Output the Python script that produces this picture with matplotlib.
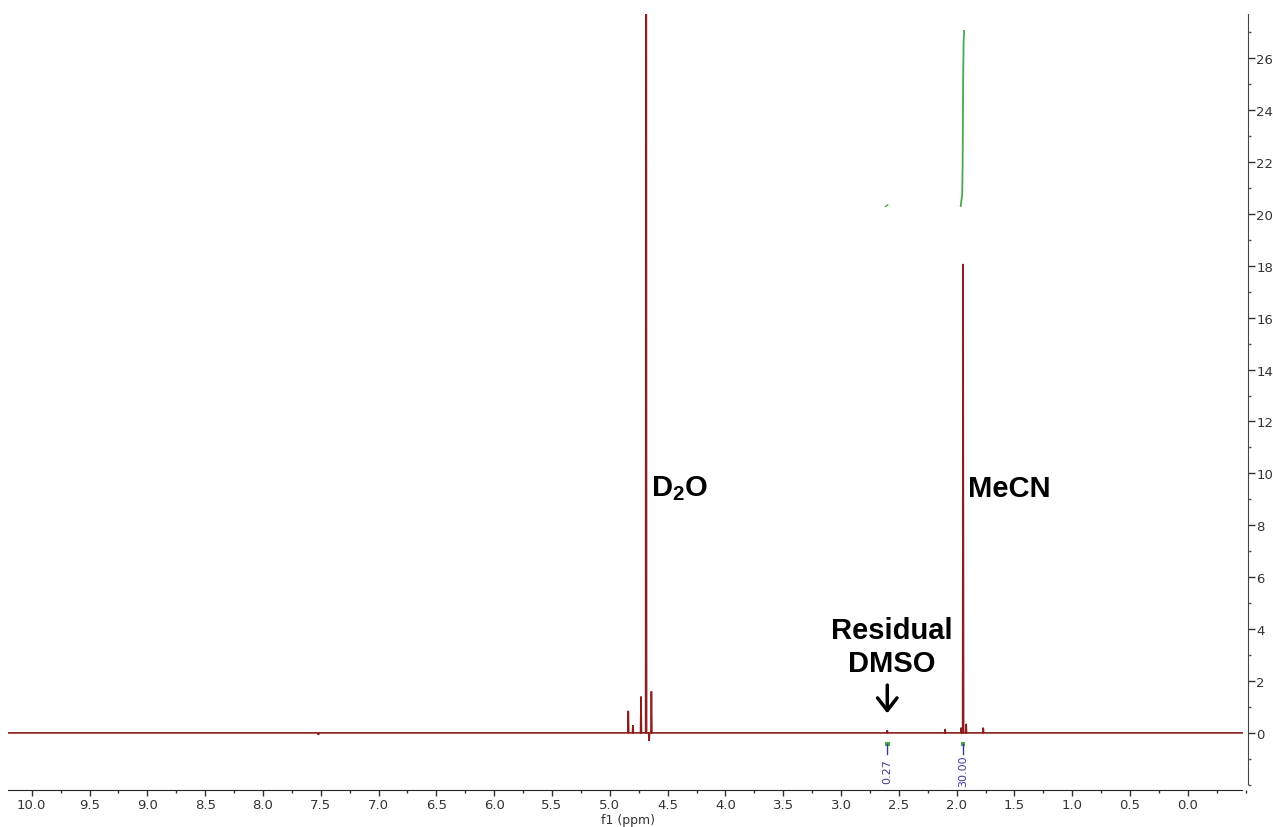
import numpy as np
import matplotlib.pyplot as plt
from matplotlib.ticker import MultipleLocator

plt.rcParams['mathtext.fontset'] = 'custom'
plt.rcParams['mathtext.bf'] = 'Liberation Sans:bold'
plt.rcParams['mathtext.rm'] = 'Liberation Sans'

# Picos del espectro 1H (ppm, intensidad)
picos_ppm = [7.52, 4.84, 4.80, 4.73, 4.686, 4.66, 4.64, 2.60, 2.10, 1.96, 1.944, 1.918, 1.77]
picos_alt = [-0.08, 0.85, 0.30, 1.40, 60.0, -0.30, 1.60, 0.10, 0.15, 0.20, 18.07, 0.35, 0.20]

# Curva de integral sobre MeCN
integ_ppm = [1.965, 1.952, 1.948, 1.944, 1.940, 1.935]
integ_val = [20.30, 20.75, 22.0, 25.0, 26.6, 27.05]
# Integral pequeña (DMSO)
integ2_ppm = [2.615, 2.595]
integ2_val = [20.28, 20.35]

integ_etiquetas = ["0.27", "30.00"]
integ_pos = [2.60, 1.944]

xticks = [10.0, 9.5, 9.0, 8.5, 8.0, 7.5, 7.0, 6.5, 6.0, 5.5, 5.0, 4.5, 4.0,
          3.5, 3.0, 2.5, 2.0, 1.5, 1.0, 0.5, 0.0]
yticks = list(range(0, 27, 2))

# Construir la línea del espectro a partir de los picos
x_pts = [10.205]
y_pts = [0.0]
w = 0.004
for p, h in zip(picos_ppm, picos_alt):
    x_pts += [p + w, p, p - w]
    y_pts += [0.0, h, 0.0]
x_pts.append(-0.47)
y_pts.append(0.0)

fig = plt.figure(figsize=(12.73, 8.28), dpi=100)
ax = fig.add_axes([8 / 1273, 37 / 828, 1240 / 1273, 776 / 828])

rojo = '#8B1E1E'
ax.plot(x_pts, y_pts, color=rojo, lw=1.2, solid_joinstyle='miter')
ax.plot(integ_ppm, integ_val, color='#4CA64C', lw=1.3)
ax.plot(integ2_ppm, integ2_val, color='#4CA64C', lw=1.0)

ax.set_xlim(10.205, -0.52)
ax.set_ylim(-2.20, 27.70)

# Ejes tipo MestReNova
for s in ['top', 'left']:
    ax.spines[s].set_visible(False)
ax.spines['bottom'].set_bounds(10.205, -0.47)
ax.spines['right'].set_bounds(-1.96, 27.70)
ax.spines['bottom'].set_color('#222222')
ax.spines['right'].set_color('#444444')

ax.set_xticks(xticks)
ax.set_xticklabels([f"{t:.1f}" for t in xticks])
ax.xaxis.set_minor_locator(MultipleLocator(0.25))
ax.yaxis.tick_right()
ax.set_yticks(yticks)
ax.set_yticklabels([str(t) for t in yticks])
ax.yaxis.set_minor_locator(MultipleLocator(1))
ax.tick_params(axis='x', which='major', length=4, width=1, labelsize=9.5,
               pad=2, colors='#333333')
ax.tick_params(axis='x', which='minor', length=2.5, width=1, colors='#333333')
ax.tick_params(axis='y', which='major', length=5, width=1, labelsize=9.5,
               pad=1, colors='#333333')
ax.tick_params(axis='y', which='minor', length=2.5, width=1, colors='#555555')
ax.set_xlabel("f1 (ppm)", fontsize=9, labelpad=1, color='#333333')

# Marcas de integración bajo la línea base
for p, lab in zip(integ_pos, integ_etiquetas):
    ax.plot([p + 0.02, p - 0.02], [-0.42, -0.42], color='#4CA64C', lw=3,
            solid_capstyle='butt')
    ax.plot([p, p], [-0.42, -0.80], color='#3A3A9A', lw=1)
    ax.text(p, -1.45, lab, rotation=90, ha='center', va='center',
            fontsize=8, color='#3A3A9A')

# Etiquetas
fuente = dict(fontsize=21, fontweight='bold', family='Liberation Sans')
ax.text(4.64, 9.45, r"D$_\mathbf{2}$O", ha='left', va='center', **fuente)
ax.text(1.90, 9.45, "MeCN", ha='left', va='center', **fuente)
ax.text(2.565, 3.33, "Residual\nDMSO", ha='center', va='center',
        linespacing=1.2, **fuente)
ax.annotate("", xy=(2.60, 0.65), xytext=(2.60, 1.95),
            arrowprops=dict(arrowstyle='->,head_width=0.35,head_length=0.45',
                            color='black', lw=2.5, mutation_scale=20))

fig.savefig("out.png", dpi=100)
